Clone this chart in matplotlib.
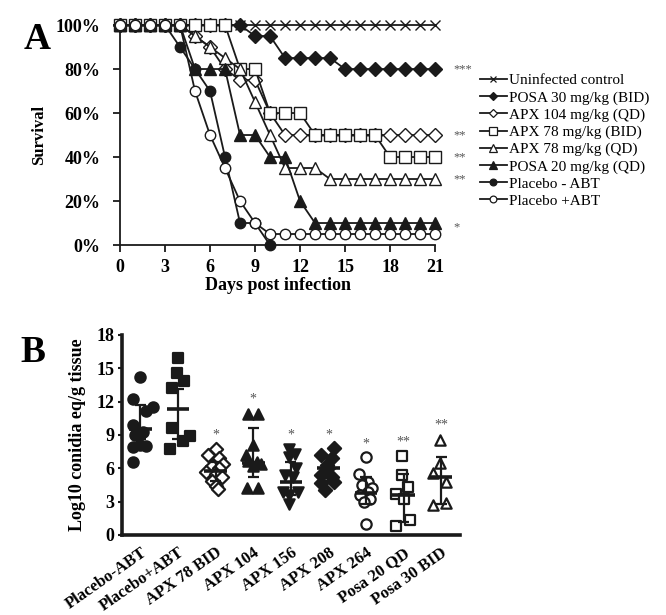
import numpy as np
import matplotlib
matplotlib.use("Agg")
import matplotlib.pyplot as plt
from matplotlib.lines import Line2D

plt.rcParams["font.family"] = ["Liberation Serif", "DejaVu Serif"]

INK = "#1a1a1a"
STAR = "#555555"

# ── Panel A: survival (%) per day ───────────────────────────────────
days = list(range(22))
survival = {
    "Uninfected control": [100] * 22,
    "POSA 30 mg/kg (BID)": [100] * 9 + [95, 95] + [85] * 4 + [80] * 7,
    "APX 104 mg/kg (QD)": [100] * 5 + [95, 90, 80, 75, 75, 60] + [50] * 11,
    "APX 78 mg/kg (BID)": [100] * 8 + [80, 80] + [60] * 3 + [50] * 5 + [40] * 4,
    "APX 78 mg/kg (QD)": [100] * 5 + [95, 90, 85, 80, 65, 50] + [35] * 3 + [30] * 8,
    "POSA 20 mg/kg (QD)": [100] * 5 + [80] * 3 + [50, 50, 40, 40, 20] + [10] * 9,
    "Placebo - ABT": [100] * 4 + [90, 80, 70, 40, 10, 10, 0],
    "Placebo +ABT": [100] * 5 + [70, 50, 35, 20, 10] + [5] * 12,
}
styles = {
    "Uninfected control": dict(marker="x", mfc=INK, ms=7.5),
    "POSA 30 mg/kg (BID)": dict(marker="D", mfc=INK, ms=7),
    "APX 104 mg/kg (QD)": dict(marker="D", mfc="white", ms=7),
    "APX 78 mg/kg (BID)": dict(marker="s", mfc="white", ms=8),
    "APX 78 mg/kg (QD)": dict(marker="^", mfc="white", ms=8.5),
    "POSA 20 mg/kg (QD)": dict(marker="^", mfc=INK, ms=8.5),
    "Placebo - ABT": dict(marker="o", mfc=INK, ms=7.5),
    "Placebo +ABT": dict(marker="o", mfc="white", ms=7.5),
}
sig_a = [("***", 80), ("**", 50), ("**", 40), ("**", 30), ("*", 8)]

# ── Panel B: log10 conidia eq/g tissue ──────────────────────────────
groups = ["Placebo-ABT", "Placebo+ABT", "APX 78 BID", "APX 104", "APX 156",
          "APX 208", "APX 264", "Posa 20 QD", "Posa 30 BID"]
vals = [
    [14.2, 12.2, 11.5, 11.2, 9.9, 9.3, 9.0, 8.1, 8.0, 7.9, 6.6],
    [15.9, 14.6, 13.9, 13.2, 9.6, 8.9, 8.5, 7.7],
    [7.7, 7.2, 6.9, 6.4, 6.2, 6.0, 5.7, 5.5, 5.2, 4.9, 4.4, 4.1],
    [10.9, 10.9, 8.1, 7.2, 6.7, 6.6, 6.4, 6.2, 4.2, 4.2],
    [7.7, 7.3, 7.0, 6.0, 5.4, 5.2, 3.9, 3.9, 3.6, 2.8],
    [7.8, 7.2, 6.9, 6.3, 6.0, 5.4, 5.25, 4.8, 4.65, 4.05],
    [7.0, 5.5, 4.8, 4.5, 4.2, 3.9, 3.6, 3.2, 3.0, 1.0],
    [7.1, 5.4, 4.35, 3.7, 3.2, 1.35, 0.8],
    [8.55, 6.5, 5.55, 4.8, 2.85, 2.7],
]
jitter = [
    [0.0, -0.19, 0.34, 0.15, -0.19, 0.08, -0.15, 0.0, 0.16, -0.19, -0.19],
    [0.0, -0.04, 0.16, -0.17, -0.17, 0.32, 0.14, -0.21],
    [0.0, -0.2, 0.1, 0.2, -0.1, 0.1, -0.25, 0.0, 0.18, -0.1, 0.0, 0.05],
    [-0.15, 0.13, 0.0, -0.2, -0.15, 0.1, 0.2, 0.0, -0.17, 0.13],
    [-0.05, 0.1, -0.05, 0.15, -0.15, 0.05, -0.2, 0.2, -0.05, -0.05],
    [0.15, -0.2, 0.1, -0.05, 0.0, -0.2, 0.1, 0.15, -0.2, -0.1],
    [0.0, -0.2, 0.05, -0.1, 0.15, 0.05, -0.15, 0.1, -0.05, 0.0],
    [-0.05, -0.05, 0.12, -0.19, 0.0, 0.17, -0.19],
    [-0.04, -0.04, -0.21, 0.14, 0.14, -0.21],
]
centre = [9.5, 11.35, 5.75, 6.45, 4.8, 6.0, 3.8, 3.6, 5.2]
lower = [8.6, 8.6, 4.9, 5.25, 3.6, 4.9, 2.8, 1.2, 2.8]
upper = [11.7, 13.1, 6.6, 9.6, 6.6, 7.0, 5.2, 5.5, 7.05]
stars_b = ["", "", "*", "*", "*", "*", "*", "**", "**"]
star_y = [0, 0, 9.0, 12.2, 9.0, 9.0, 8.2, 8.4, 9.9]
b_markers = [("o", INK), ("s", INK), ("D", "white"), ("^", INK), ("v", INK),
             ("D", INK), ("o", "white"), ("s", "white"), ("^", "white")]

fig = plt.figure(figsize=(6.66, 6.15), dpi=100)

# ══════════════════════════════════════════════════════════════════
# Panel A
# ══════════════════════════════════════════════════════════════════
axA = fig.add_axes([0.1802, 0.6016, 0.4730, 0.3577])
handles = []
for name, ys in survival.items():
    st = styles[name]
    axA.plot(days[:len(ys)], ys, color=INK, lw=1.3, marker=st["marker"],
             ms=st["ms"], mfc=st["mfc"], mec=INK, mew=1.0, clip_on=False, zorder=3)
    handles.append(Line2D([], [], color=INK, lw=1.3, marker=st["marker"],
                          ms=st["ms"] * 0.65, mfc=st["mfc"], mec=INK, mew=0.9,
                          label=name))
for s, y in sig_a:
    axA.text(22.2, y, s, color=STAR, fontsize=9, va="center", ha="left")

axA.set_xlim(0, 21)
axA.set_ylim(0, 100)
axA.set_xticks(range(0, 22, 3))
axA.set_yticks(range(0, 101, 20))
axA.set_yticklabels([f"{v}%" for v in range(0, 101, 20)])
for sp in ["top", "right"]:
    axA.spines[sp].set_visible(False)
for sp in ["left", "bottom"]:
    axA.spines[sp].set_linewidth(1.3)
    axA.spines[sp].set_color(INK)
axA.tick_params(direction="out", length=5, width=1.3, color=INK)
axA.tick_params(axis="y", pad=9)
axA.tick_params(axis="x", pad=5)
for lab in axA.get_xticklabels() + axA.get_yticklabels():
    lab.set_fontsize(13)
    lab.set_fontweight("bold")
axA.set_xlabel("Days post infection", fontsize=13, fontweight="bold", labelpad=1)
axA.set_ylabel("Survival", fontsize=12, fontweight="bold", labelpad=6)

fig.legend(handles=handles, loc="upper left", bbox_to_anchor=(0.72, 0.88),
           frameon=False, fontsize=11, handlelength=1.8, handletextpad=0.15,
           labelspacing=0.22, borderpad=0, borderaxespad=0)

fig.text(0.035, 0.965, "A", fontsize=27, fontweight="bold", va="top", ha="left")

# ══════════════════════════════════════════════════════════════════
# Panel B
# ══════════════════════════════════════════════════════════════════
axB = fig.add_axes([0.1827, 0.1301, 0.5080, 0.3252])
for i, (ys, js) in enumerate(zip(vals, jitter)):
    m, fc = b_markers[i]
    axB.scatter(np.array(js) + i, ys, marker=m, s=55 if m != "D" else 45,
                facecolors=fc, edgecolors=INK, linewidths=1.6, zorder=3)
    axB.vlines(i, lower[i], upper[i], color=INK, lw=1.6, zorder=4)
    axB.hlines([lower[i], upper[i]], i - 0.15, i + 0.15, color=INK, lw=1.6, zorder=4)
    axB.hlines(centre[i], i - 0.3, i + 0.3, color=INK, lw=2.6, zorder=4)
    if stars_b[i]:
        axB.text(i, star_y[i], stars_b[i], color=STAR, fontsize=10,
                 ha="center", va="center")

axB.set_xlim(-0.5, 8.5)
axB.set_ylim(0, 18)
axB.set_yticks(range(0, 19, 3))
axB.set_xticks(range(len(groups)))
axB.set_xticklabels(groups, rotation=35, ha="right", rotation_mode="anchor",
                    fontsize=12, fontweight="bold")
for lab in axB.get_yticklabels():
    lab.set_fontsize(13)
    lab.set_fontweight("bold")
for sp in ["top", "right"]:
    axB.spines[sp].set_visible(False)
for sp in ["left", "bottom"]:
    axB.spines[sp].set_linewidth(2.6)
    axB.spines[sp].set_color(INK)
axB.tick_params(axis="y", direction="out", length=3, width=1.5, color=INK, pad=2)
axB.tick_params(axis="x", length=0, pad=7)
axB.set_ylabel("Log10 conidia eq/g tissue", fontsize=13, fontweight="bold", labelpad=8)

fig.text(0.03, 0.455, "B", fontsize=27, fontweight="bold", va="top", ha="left")

fig.savefig("out.png", dpi=100)
